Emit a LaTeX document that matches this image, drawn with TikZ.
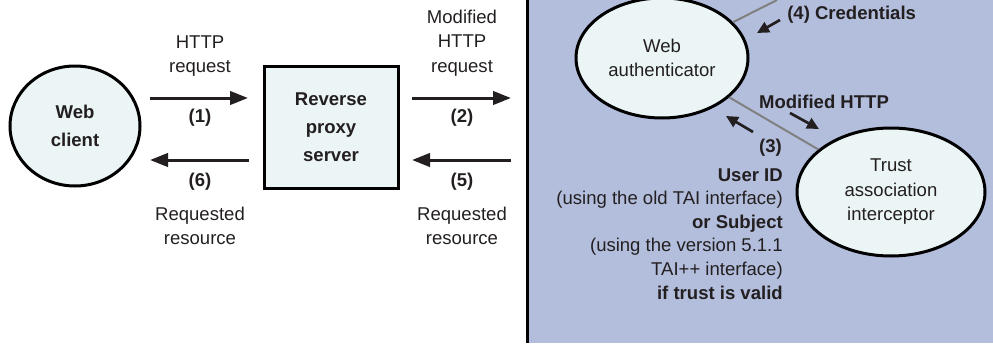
\documentclass[tikz,border=0pt]{standalone}
\usepackage{fontspec}
\setmainfont{Liberation Sans}
\usepackage{tikz}
\usetikzlibrary{arrows.meta,shapes.geometric,positioning}
\usepackage{xcolor}
\definecolor{taink}{RGB}{35,31,32}
\definecolor{tapanel}{RGB}{179,190,221}
\definecolor{tafill}{RGB}{236,245,245}
\definecolor{taline}{RGB}{128,128,128}
\tikzstyle{flow} = [line width=2.25pt,-{Triangle[length=13.5pt,width=10pt]},color=taink]
\tikzstyle{shortflow} = [line width=2pt,-{Triangle[length=9pt,width=8.5pt]},color=taink]
\tikzstyle{txt} = [font=\fontsize{13.9}{18.4}\selectfont,text=taink,align=center,inner sep=0pt]
\tikzstyle{btxt} = [txt,font=\fontsize{13.9}{21}\selectfont\bfseries]
\tikzstyle{party} = [ellipse,draw=black,line width=2.25pt,fill=tafill]

\begin{document}
\begin{tikzpicture}[x=0.75pt,y=-0.75pt]
\useasboundingbox (0,0) rectangle (993,343);

% Application server panel
\fill[tapanel] (527,0) rectangle (993,343);
\draw[line width=2.25pt] (527,0) -- (527,343);

% Client and proxy
\node[party,btxt,minimum width=97.5pt,minimum height=90pt] (client) at (75,126) {Web\\client};
\node[draw=black,line width=2.25pt,fill=tafill,btxt,minimum width=100.5pt,minimum height=91.5pt] (proxy) at (331,127) {Reverse\\proxy\\server};

% Authenticator and TAI
\node[party,txt,minimum width=129pt,minimum height=90pt] (auth) at (662,58) {Web\\authenticator};
\node[party,txt,minimum width=141pt,minimum height=96pt] (trust) at (891,192) {Trust\\association\\interceptor};

% Gray links
\coordinate (up) at (777,0);
\draw[taline,line width=1.5pt] (auth) -- (up);
\draw[taline,line width=1.5pt] (auth) -- (trust);

% Request/response arrows
\coordinate (r1s) at (150,98);  \coordinate (r1e) at (248,98);
\coordinate (r6s) at (249,160); \coordinate (r6e) at (150,160);
\coordinate (r2s) at (412,98);  \coordinate (r2e) at (511,98);
\coordinate (r5s) at (511,160); \coordinate (r5e) at (412,160);
\draw[flow] (r1s) -- (r1e);
\draw[flow] (r6s) -- (r6e);
\draw[flow] (r2s) -- (r2e);
\draw[flow] (r5s) -- (r5e);

% Short arrows inside the panel
\coordinate (c4s) at (780,20);  \coordinate (c4e) at (757,33);
\coordinate (mhs) at (790,113); \coordinate (mhe) at (819,129);
\coordinate (c3s) at (753,132); \coordinate (c3e) at (726,116);
\draw[shortflow] (c4s) -- (c4e);
\draw[shortflow] (mhs) -- (mhe);
\draw[shortflow] (c3s) -- (c3e);

% Labels
\node[txt] (req1) at (200,56) {HTTP\\request};
\node[btxt] (n1) at (200,118) {(1)};
\node[btxt] (n6) at (200,182) {(6)};
\node[txt] (res6) at (200,226) {Requested\\resource};
\node[txt] (req2) at (462,43) {Modified\\HTTP\\request};
\node[btxt] (n2) at (462,118) {(2)};
\node[btxt] (n5) at (462,182) {(5)};
\node[txt] (res5) at (462,226) {Requested\\resource};
\node[btxt,anchor=west] (cred) at (787,15) {(4) Credentials};
\node[btxt] (mhttp) at (824,102) {Modified HTTP};
\node[btxt,anchor=east] (n3) at (782,148) {(3)};
\node[txt,align=right,anchor=north east,font=\fontsize{13.9}{17.7}\selectfont] (uid) at (783,168)
  {\textbf{User ID}\\(using the old TAI interface)\\\textbf{or Subject}\\(using the version 5.1.1\\TAI++ interface)\\\textbf{if trust is valid}};
\end{tikzpicture}
\end{document}
